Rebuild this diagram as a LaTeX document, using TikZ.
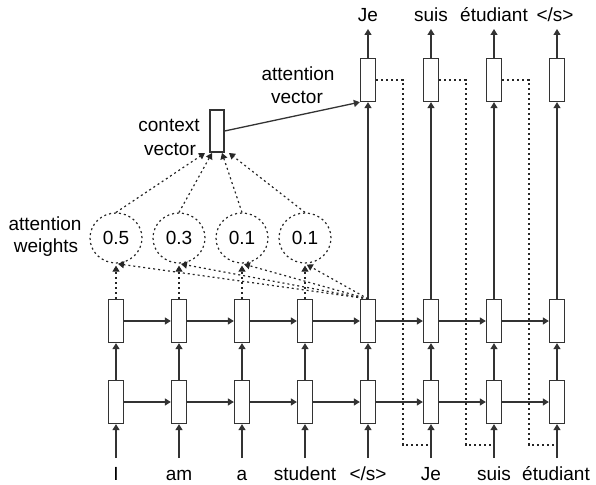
\documentclass[tikz,border=0pt]{standalone}
\usepackage{fontspec}
\setmainfont{Liberation Sans}
\usetikzlibrary{arrows.meta,shapes.geometric}
\begin{document}
\begin{tikzpicture}[x=1pt,y=-1pt,
  cell/.style={draw=black!80,line width=1.3pt,fill=white,minimum width=15pt,
    minimum height=43pt,inner sep=0pt},
  lbl/.style={font=\fontsize{19}{23}\selectfont,inner sep=0pt,anchor=base},
  arr/.style={draw=black!80,line width=1.3pt,-{Triangle[length=6pt,width=7pt]}},
  dots/.style={draw=black!85,line width=1.2pt,dash pattern=on 2pt off 3pt},
  darr/.style={dots,-{Triangle[length=6pt,width=7pt]}},
  weight/.style={ellipse,draw=black!85,line width=1.2pt,dash pattern=on 2pt off 3pt,
    minimum width=52pt,minimum height=50pt,inner sep=0pt,
    font=\fontsize{19}{23}\selectfont}
]
\useasboundingbox (0,0) rectangle (596,484);

% two stacked recurrent layers, encoder (1-5) and decoder (5-8)
\foreach \i/\x in {1/116,2/179,3/242,4/305,5/368,6/431,7/494,8/557}{
  \node[cell] (t\i) at (\x,321) {};
  \node[cell] (b\i) at (\x,402) {};
  \coordinate (s\i) at (\x,458);
}

% attention-vector cells above the decoder and their outputs
\foreach \i/\x in {5/368,6/431,7/494,8/557}{
  \node[cell] (a\i) at (\x,80) {};
  \coordinate (o\i) at (\x,29);
}

% feeding each output back as the next decoder input
\coordinate (k5) at (403,445);
\coordinate (k6) at (466,445);
\coordinate (k7) at (529,445);
\coordinate (j6) at (431,445);
\coordinate (j7) at (494,445);
\coordinate (j8) at (557,445);
\draw[dots] (a5.east) -| (k5) -- (j6);
\draw[dots] (a6.east) -| (k6) -- (j7);
\draw[dots] (a7.east) -| (k7) -- (j8);

% recurrent and vertical connections
\foreach \i in {1,...,7}{
  \pgfmathtruncatemacro\j{\i+1}
  \draw[arr] (t\i) -- (t\j);
  \draw[arr] (b\i) -- (b\j);
}
\foreach \i in {1,...,8}{
  \draw[arr] (s\i) -- (b\i.south);
  \draw[arr] (b\i) -- (t\i);
}
\foreach \i in {5,...,8}{
  \draw[arr] (t\i.north) -- (a\i.south);
  \draw[arr] (a\i.north) -- (o\i);
}

% attention weights
\node[weight] (w1) at (116,238) {0.5};
\node[weight] (w2) at (179,238) {0.3};
\node[weight] (w3) at (242,238) {0.1};
\node[weight] (w4) at (305,238) {0.1};

% context vector
\node[cell,minimum width=14pt,minimum height=42pt] (ctx) at (217,131) {};
\coordinate (c1) at (205,153);
\coordinate (c2) at (212,153);
\coordinate (c3) at (222,153);
\coordinate (c4) at (229,153);

\foreach \i in {1,...,4}{
  \draw[darr,shorten >=2pt] (t\i.north) -- (w\i.south);
  \draw[darr,shorten >=2pt] (t5.north) -- (w\i.south);
  \draw[darr] (w\i.north) -- (c\i);
}
\draw[arr] (ctx.east) -- (a5.south west);

% labels
\node[lbl] (in1) at (116,480) {I};
\node[lbl] (in2) at (179,480) {am};
\node[lbl] (in3) at (242,480) {a};
\node[lbl] (in4) at (305,480) {student};
\node[lbl] (in5) at (368,480) {</s>};
\node[lbl] (in6) at (431,480) {Je};
\node[lbl] (in7) at (494,480) {suis};
\node[lbl] (in8) at (556,480) {étudiant};

\node[lbl] (out5) at (368,22) {Je};
\node[lbl] (out6) at (431,22) {suis};
\node[lbl] (out7) at (494,22) {étudiant};
\node[lbl] (out8) at (555,22) {</s>};

\node[lbl] (av1) at (298,81) {attention};
\node[lbl] (av2) at (297,103.5) {vector};
\node[lbl] (cv1) at (169,131.5) {context};
\node[lbl] (cv2) at (170,155) {vector};
\node[lbl] (aw1) at (45,230) {attention};
\node[lbl] (aw2) at (46,252.5) {weights};
\end{tikzpicture}
\end{document}
